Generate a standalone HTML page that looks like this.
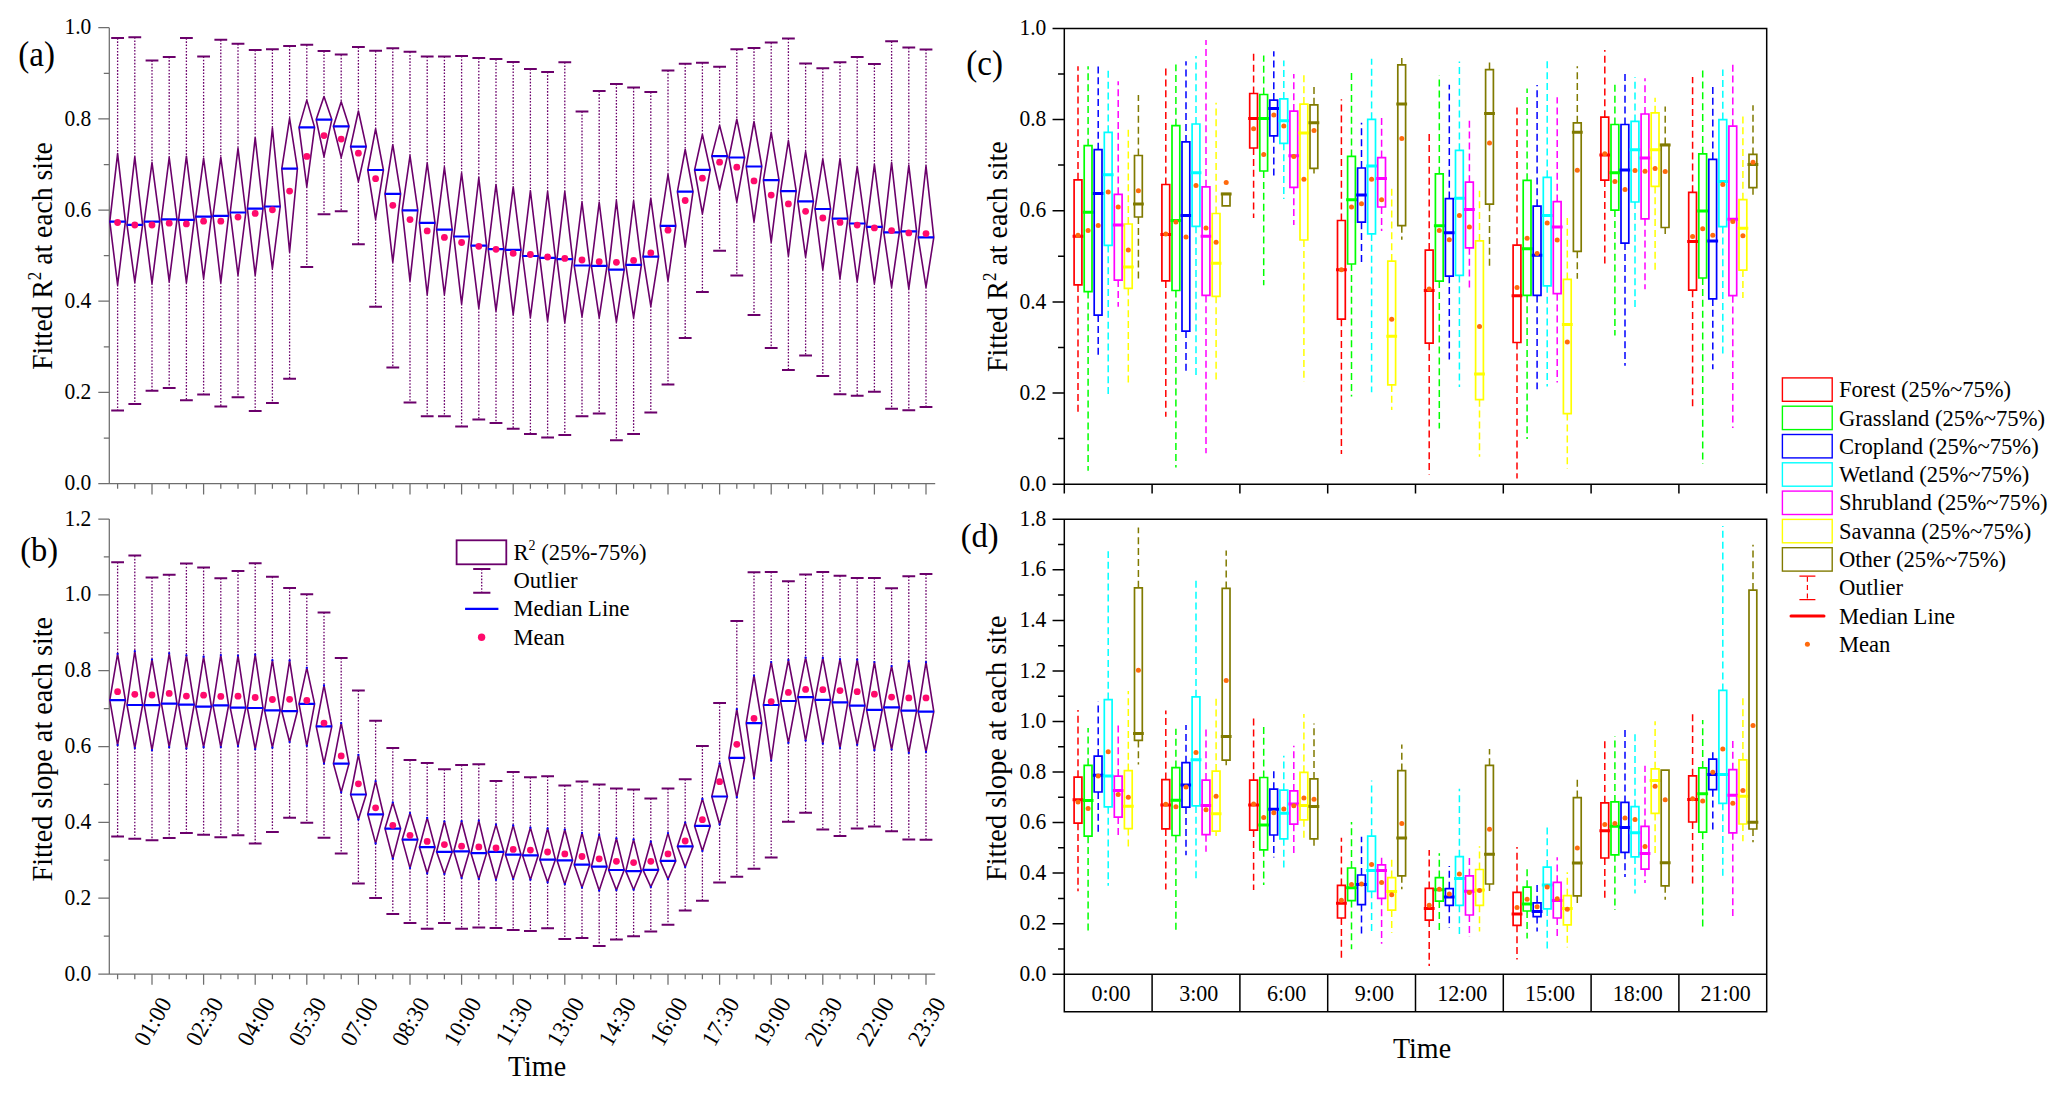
<!DOCTYPE html><html><head><meta charset="utf-8"><title>Figure</title>
<style>html,body{margin:0;padding:0;background:#fff}svg{display:block}text{font-family:"Liberation Serif",serif;fill:#000}</style></head><body>
<svg width="2067" height="1096" viewBox="0 0 2067 1096">
<rect width="2067" height="1096" fill="#fff"/>
<path d="M109.3 27.7V483.6M98.3 483.6H935.2M98.3 27.7H109.3M103.8 73.3H109.3M98.3 118.9H109.3M103.8 164.5H109.3M98.3 210.1H109.3M103.8 255.7H109.3M98.3 301.2H109.3M103.8 346.8H109.3M98.3 392.4H109.3M103.8 438H109.3M98.3 483.6H109.3M117.6 483.6v5.2M134.8 483.6v5.2M152 483.6v10.8M169.2 483.6v5.2M186.4 483.6v5.2M203.6 483.6v10.8M220.8 483.6v5.2M238 483.6v5.2M255.2 483.6v10.8M272.4 483.6v5.2M289.6 483.6v5.2M306.8 483.6v10.8M324 483.6v5.2M341.2 483.6v5.2M358.4 483.6v10.8M375.6 483.6v5.2M392.8 483.6v5.2M410 483.6v10.8M427.2 483.6v5.2M444.4 483.6v5.2M461.6 483.6v10.8M478.8 483.6v5.2M496 483.6v5.2M513.2 483.6v10.8M530.4 483.6v5.2M547.6 483.6v5.2M564.8 483.6v10.8M582 483.6v5.2M599.2 483.6v5.2M616.4 483.6v10.8M633.6 483.6v5.2M650.8 483.6v5.2M668 483.6v10.8M685.2 483.6v5.2M702.4 483.6v5.2M719.6 483.6v10.8M736.8 483.6v5.2M754 483.6v5.2M771.2 483.6v10.8M788.4 483.6v5.2M805.6 483.6v5.2M822.8 483.6v10.8M840 483.6v5.2M857.2 483.6v5.2M874.4 483.6v10.8M891.6 483.6v5.2M908.8 483.6v5.2M926 483.6v10.8" stroke="#6e6e6e" stroke-width="1.25" fill="none"/>
<text transform="translate(91.3 34.3) scale(1 1.06)" font-size="21.5" text-anchor="end">1.0</text>
<text transform="translate(91.3 125.5) scale(1 1.06)" font-size="21.5" text-anchor="end">0.8</text>
<text transform="translate(91.3 216.7) scale(1 1.06)" font-size="21.5" text-anchor="end">0.6</text>
<text transform="translate(91.3 307.8) scale(1 1.06)" font-size="21.5" text-anchor="end">0.4</text>
<text transform="translate(91.3 399) scale(1 1.06)" font-size="21.5" text-anchor="end">0.2</text>
<text transform="translate(91.3 490.2) scale(1 1.06)" font-size="21.5" text-anchor="end">0.0</text>
<path d="M117.6 38.1V153.6M117.6 284.8V410.5M134.8 37.2V156.8M134.8 282.1V404M152 60.4V162.6M152 283.4V390.8M169.2 56.9V157.5M169.2 281.4V387.9M186.4 38.1V156.2M186.4 282.7V400.2M203.6 56.5V158.3M203.6 278.4V394.5M220.8 39.8V157.4M220.8 282.7V406.5M238 43.8V148.3M238 275.2V397.3M255.2 50V137.7M255.2 275.2V411M272.4 49.3V128.1M272.4 268.4V403M289.6 45.9V118.3M289.6 252V378.7M306.8 44.8V100.1M306.8 186.7V267M324 51.1V96.6M324 156.5V214.3M341.2 54.6V101.7M341.2 157.4V211.3M358.4 47.1V111M358.4 181.5V244.3M375.6 50.8V128.8M375.6 219.1V306.8M392.8 48.2V144.7M392.8 262.2V367.5M410 51.7V155.8M410 280.8V402.4M427.2 56.5V163.2M427.2 294.5V416.2M444.4 56.5V167.4M444.4 294.5V416.2M461.6 56V173.1M461.6 303.8V426.4M478.8 57.9V177.9M478.8 308.2V419.5M496 59.1V184.5M496 310.9V423.1M513.2 61.9V186.8M513.2 314.3V428.8M530.4 69V190.9M530.4 317.1V433.9M547.6 71.9V191.6M547.6 321.2V437.4M564.8 62.2V191.6M564.8 322.5V435M582 111.4V202.3M582 316.4V416.2M599.2 90.9V202.3M599.2 317.7V413.6M616.4 83.9V200.9M616.4 321.8V440.2M633.6 87.6V201.2M633.6 317.7V434M650.8 92.1V198.4M650.8 306.1V412.5M668 70.4V174.5M668 280.8V384.4M685.2 63.7V149.5M685.2 246.3V338M702.4 62.8V134.5M702.4 213.5V291.9M719.6 66.8V125.4M719.6 189.5V250.7M736.8 49.3V119.2M736.8 201.8V275.6M754 48.1V121.5M754 221.7V315.1M771.2 42.6V132.4M771.2 242.2V347.9M788.4 38.5V140.6M788.4 256V370M805.6 63.4V151.8M805.6 257V355.4M822.8 68.2V159.2M822.8 269.7V375.9M840 62.3V158.5M840 278.3V394.2M857.2 57V166.7M857.2 281.5V395.8M874.4 64.1V164.6M874.4 283.5V391.8M891.6 41.3V162.5M891.6 287.2V408.8M908.8 47.6V165.3M908.8 288.6V410.3M926 49.4V166M926 287.2V407.1" stroke="#6b006b" stroke-width="1.3" stroke-dasharray="1.6 1.6" fill="none"/>
<path d="M111.2 38.1h12.8M111.2 410.5h12.8M128.4 37.2h12.8M128.4 404h12.8M145.6 60.4h12.8M145.6 390.8h12.8M162.8 56.9h12.8M162.8 387.9h12.8M180 38.1h12.8M180 400.2h12.8M197.2 56.5h12.8M197.2 394.5h12.8M214.4 39.8h12.8M214.4 406.5h12.8M231.6 43.8h12.8M231.6 397.3h12.8M248.8 50h12.8M248.8 411h12.8M266 49.3h12.8M266 403h12.8M283.2 45.9h12.8M283.2 378.7h12.8M300.4 44.8h12.8M300.4 267h12.8M317.6 51.1h12.8M317.6 214.3h12.8M334.8 54.6h12.8M334.8 211.3h12.8M352 47.1h12.8M352 244.3h12.8M369.2 50.8h12.8M369.2 306.8h12.8M386.4 48.2h12.8M386.4 367.5h12.8M403.6 51.7h12.8M403.6 402.4h12.8M420.8 56.5h12.8M420.8 416.2h12.8M438 56.5h12.8M438 416.2h12.8M455.2 56h12.8M455.2 426.4h12.8M472.4 57.9h12.8M472.4 419.5h12.8M489.6 59.1h12.8M489.6 423.1h12.8M506.8 61.9h12.8M506.8 428.8h12.8M524 69h12.8M524 433.9h12.8M541.2 71.9h12.8M541.2 437.4h12.8M558.4 62.2h12.8M558.4 435h12.8M575.6 111.4h12.8M575.6 416.2h12.8M592.8 90.9h12.8M592.8 413.6h12.8M610 83.9h12.8M610 440.2h12.8M627.2 87.6h12.8M627.2 434h12.8M644.4 92.1h12.8M644.4 412.5h12.8M661.6 70.4h12.8M661.6 384.4h12.8M678.8 63.7h12.8M678.8 338h12.8M696 62.8h12.8M696 291.9h12.8M713.2 66.8h12.8M713.2 250.7h12.8M730.4 49.3h12.8M730.4 275.6h12.8M747.6 48.1h12.8M747.6 315.1h12.8M764.8 42.6h12.8M764.8 347.9h12.8M782 38.5h12.8M782 370h12.8M799.2 63.4h12.8M799.2 355.4h12.8M816.4 68.2h12.8M816.4 375.9h12.8M833.6 62.3h12.8M833.6 394.2h12.8M850.8 57h12.8M850.8 395.8h12.8M868 64.1h12.8M868 391.8h12.8M885.2 41.3h12.8M885.2 408.8h12.8M902.4 47.6h12.8M902.4 410.3h12.8M919.6 49.4h12.8M919.6 407.1h12.8" stroke="#6b006b" stroke-width="2" fill="none"/>
<path d="M117.6 153.6L125.4 221.6L117.6 284.8L109.8 221.6ZM134.8 156.8L142.6 224.9L134.8 282.1L127 224.9ZM152 162.6L159.8 221.6L152 283.4L144.2 221.6ZM169.2 157.5L177 219.4L169.2 281.4L161.4 219.4ZM186.4 156.2L194.2 219.9L186.4 282.7L178.6 219.9ZM203.6 158.3L211.4 216.6L203.6 278.4L195.8 216.6ZM220.8 157.4L228.6 215.8L220.8 282.7L213 215.8ZM238 148.3L245.8 212.5L238 275.2L230.2 212.5ZM255.2 137.7L263 208.6L255.2 275.2L247.4 208.6ZM272.4 128.1L280.2 206.5L272.4 268.4L264.6 206.5ZM289.6 118.3L297.4 168.7L289.6 252L281.8 168.7ZM306.8 100.1L314.6 127.4L306.8 186.7L299 127.4ZM324 96.6L331.8 119.6L324 156.5L316.2 119.6ZM341.2 101.7L349 126.3L341.2 157.4L333.4 126.3ZM358.4 111L366.2 146.6L358.4 181.5L350.6 146.6ZM375.6 128.8L383.4 170L375.6 219.1L367.8 170ZM392.8 144.7L400.6 193.8L392.8 262.2L385 193.8ZM410 155.8L417.8 210.3L410 280.8L402.2 210.3ZM427.2 163.2L435 222.8L427.2 294.5L419.4 222.8ZM444.4 167.4L452.2 229.6L444.4 294.5L436.6 229.6ZM461.6 173.1L469.4 236.5L461.6 303.8L453.8 236.5ZM478.8 177.9L486.6 245.6L478.8 308.2L471 245.6ZM496 184.5L503.8 249.1L496 310.9L488.2 249.1ZM513.2 186.8L521 249.9L513.2 314.3L505.4 249.9ZM530.4 190.9L538.2 256L530.4 317.1L522.6 256ZM547.6 191.6L555.4 257.8L547.6 321.2L539.8 257.8ZM564.8 191.6L572.6 259.2L564.8 322.5L557 259.2ZM582 202.3L589.8 265.5L582 316.4L574.2 265.5ZM599.2 202.3L607 265.8L599.2 317.7L591.4 265.8ZM616.4 200.9L624.2 269.7L616.4 321.8L608.6 269.7ZM633.6 201.2L641.4 264.8L633.6 317.7L625.8 264.8ZM650.8 198.4L658.6 256.6L650.8 306.1L643 256.6ZM668 174.5L675.8 225.8L668 280.8L660.2 225.8ZM685.2 149.5L693 191.6L685.2 246.3L677.4 191.6ZM702.4 134.5L710.2 169.8L702.4 213.5L694.6 169.8ZM719.6 125.4L727.4 156.1L719.6 189.5L711.8 156.1ZM736.8 119.2L744.6 157.5L736.8 201.8L729 157.5ZM754 121.5L761.8 166.5L754 221.7L746.2 166.5ZM771.2 132.4L779 180.1L771.2 242.2L763.4 180.1ZM788.4 140.6L796.2 191.2L788.4 256L780.6 191.2ZM805.6 151.8L813.4 201.3L805.6 257L797.8 201.3ZM822.8 159.2L830.6 209L822.8 269.7L815 209ZM840 158.5L847.8 218.7L840 278.3L832.2 218.7ZM857.2 166.7L865 223.5L857.2 281.5L849.4 223.5ZM874.4 164.6L882.2 226.8L874.4 283.5L866.6 226.8ZM891.6 162.5L899.4 232.4L891.6 287.2L883.8 232.4ZM908.8 165.3L916.6 231.4L908.8 288.6L901 231.4ZM926 166L933.8 237.4L926 287.2L918.2 237.4Z" stroke="#6b006b" stroke-width="1.6" stroke-linejoin="round" fill="none"/>
<path d="M109.6 221.6h16M126.8 224.9h16M144 221.6h16M161.2 219.4h16M178.4 219.9h16M195.6 216.6h16M212.8 215.8h16M230 212.5h16M247.2 208.6h16M264.4 206.5h16M281.6 168.7h16M298.8 127.4h16M316 119.6h16M333.2 126.3h16M350.4 146.6h16M367.6 170h16M384.8 193.8h16M402 210.3h16M419.2 222.8h16M436.4 229.6h16M453.6 236.5h16M470.8 245.6h16M488 249.1h16M505.2 249.9h16M522.4 256h16M539.6 257.8h16M556.8 259.2h16M574 265.5h16M591.2 265.8h16M608.4 269.7h16M625.6 264.8h16M642.8 256.6h16M660 225.8h16M677.2 191.6h16M694.4 169.8h16M711.6 156.1h16M728.8 157.5h16M746 166.5h16M763.2 180.1h16M780.4 191.2h16M797.6 201.3h16M814.8 209h16M832 218.7h16M849.2 223.5h16M866.4 226.8h16M883.6 232.4h16M900.8 231.4h16M918 237.4h16" stroke="#0000ff" stroke-width="2.2" fill="none"/>
<g fill="#ff0a6c"><circle cx="117.6" cy="222.5" r="3.4"/><circle cx="134.8" cy="225" r="3.4"/><circle cx="152" cy="225" r="3.4"/><circle cx="169.2" cy="223.2" r="3.4"/><circle cx="186.4" cy="223.9" r="3.4"/><circle cx="203.6" cy="221.2" r="3.4"/><circle cx="220.8" cy="221.2" r="3.4"/><circle cx="238" cy="217.1" r="3.4"/><circle cx="255.2" cy="213.4" r="3.4"/><circle cx="272.4" cy="209.8" r="3.4"/><circle cx="289.6" cy="191.1" r="3.4"/><circle cx="306.8" cy="156.4" r="3.4"/><circle cx="324" cy="135.6" r="3.4"/><circle cx="341.2" cy="139.1" r="3.4"/><circle cx="358.4" cy="153.2" r="3.4"/><circle cx="375.6" cy="178.7" r="3.4"/><circle cx="392.8" cy="205.3" r="3.4"/><circle cx="410" cy="219.6" r="3.4"/><circle cx="427.2" cy="230.9" r="3.4"/><circle cx="444.4" cy="237.4" r="3.4"/><circle cx="461.6" cy="242.5" r="3.4"/><circle cx="478.8" cy="246.3" r="3.4"/><circle cx="496" cy="249.3" r="3.4"/><circle cx="513.2" cy="253.4" r="3.4"/><circle cx="530.4" cy="254.5" r="3.4"/><circle cx="547.6" cy="257" r="3.4"/><circle cx="564.8" cy="258.4" r="3.4"/><circle cx="582" cy="260" r="3.4"/><circle cx="599.2" cy="261.7" r="3.4"/><circle cx="616.4" cy="262.3" r="3.4"/><circle cx="633.6" cy="260.4" r="3.4"/><circle cx="650.8" cy="252.9" r="3.4"/><circle cx="668" cy="230.2" r="3.4"/><circle cx="685.2" cy="200.5" r="3.4"/><circle cx="702.4" cy="178.2" r="3.4"/><circle cx="719.6" cy="162.2" r="3.4"/><circle cx="736.8" cy="167.2" r="3.4"/><circle cx="754" cy="180.9" r="3.4"/><circle cx="771.2" cy="195.1" r="3.4"/><circle cx="788.4" cy="203.9" r="3.4"/><circle cx="805.6" cy="211.3" r="3.4"/><circle cx="822.8" cy="218" r="3.4"/><circle cx="840" cy="222.4" r="3.4"/><circle cx="857.2" cy="225.1" r="3.4"/><circle cx="874.4" cy="227.9" r="3.4"/><circle cx="891.6" cy="230.6" r="3.4"/><circle cx="908.8" cy="232.9" r="3.4"/><circle cx="926" cy="233.6" r="3.4"/></g>
<path d="M109.3 519V974M98.3 974H935.2M98.3 519H109.3M103.8 556.9H109.3M98.3 594.8H109.3M103.8 632.8H109.3M98.3 670.7H109.3M103.8 708.6H109.3M98.3 746.5H109.3M103.8 784.4H109.3M98.3 822.3H109.3M103.8 860.2H109.3M98.3 898.2H109.3M103.8 936.1H109.3M98.3 974H109.3M117.6 974v5.2M134.8 974v5.2M152 974v10.8M169.2 974v5.2M186.4 974v5.2M203.6 974v10.8M220.8 974v5.2M238 974v5.2M255.2 974v10.8M272.4 974v5.2M289.6 974v5.2M306.8 974v10.8M324 974v5.2M341.2 974v5.2M358.4 974v10.8M375.6 974v5.2M392.8 974v5.2M410 974v10.8M427.2 974v5.2M444.4 974v5.2M461.6 974v10.8M478.8 974v5.2M496 974v5.2M513.2 974v10.8M530.4 974v5.2M547.6 974v5.2M564.8 974v10.8M582 974v5.2M599.2 974v5.2M616.4 974v10.8M633.6 974v5.2M650.8 974v5.2M668 974v10.8M685.2 974v5.2M702.4 974v5.2M719.6 974v10.8M736.8 974v5.2M754 974v5.2M771.2 974v10.8M788.4 974v5.2M805.6 974v5.2M822.8 974v10.8M840 974v5.2M857.2 974v5.2M874.4 974v10.8M891.6 974v5.2M908.8 974v5.2M926 974v10.8" stroke="#6e6e6e" stroke-width="1.25" fill="none"/>
<text transform="translate(91.3 525.6) scale(1 1.06)" font-size="21.5" text-anchor="end">1.2</text>
<text transform="translate(91.3 601.4) scale(1 1.06)" font-size="21.5" text-anchor="end">1.0</text>
<text transform="translate(91.3 677.3) scale(1 1.06)" font-size="21.5" text-anchor="end">0.8</text>
<text transform="translate(91.3 753.1) scale(1 1.06)" font-size="21.5" text-anchor="end">0.6</text>
<text transform="translate(91.3 828.9) scale(1 1.06)" font-size="21.5" text-anchor="end">0.4</text>
<text transform="translate(91.3 904.8) scale(1 1.06)" font-size="21.5" text-anchor="end">0.2</text>
<text transform="translate(91.3 980.6) scale(1 1.06)" font-size="21.5" text-anchor="end">0.0</text>
<path d="M117.6 562.2V653.8M117.6 745.1V836.6M134.8 555.6V651.2M134.8 748.1V838.8M152 577.5V659.5M152 750.2V840.3M169.2 574.8V653.3M169.2 747.2V838M186.4 563.5V655.3M186.4 748.5V832.9M203.6 567.4V656.7M203.6 747.2V834.7M220.8 578.2V655M220.8 747V837.2M238 571.1V655.6M238 746.1V835.3M255.2 563.3V654.6M255.2 749.2V843.6M272.4 576.7V660.2M272.4 747.7V832M289.6 588V660.4M289.6 742V817.7M306.8 594.3V667.8M306.8 745.8V822.8M324 612.5V685.4M324 763.5V837.7M341.2 658V723.2M341.2 792.3V853.5M358.4 690.4V754.8M358.4 819.6V883.4M375.6 720.8V781.1M375.6 843.4V898M392.8 748V802.4M392.8 858.7V914M410 760V813M410 868.1V922.9M427.2 763.1V817.9M427.2 873.3V928.8M444.4 769.2V821.3M444.4 874.1V923.1M461.6 765V821.2M461.6 878V928.8M478.8 764.2V820.6M478.8 878.9V927.6M496 781.1V824.6M496 879.8V928.1M513.2 772V825.4M513.2 879V930.1M530.4 777.2V827.7M530.4 879.7V931M547.6 776.3V828.4M547.6 882.3V928.3M564.8 785.5V829.5M564.8 884.2V939.1M582 781.5V832.9M582 887.5V938M599.2 784.5V834.9M599.2 890.6V946.1M616.4 788.6V838.3M616.4 890.1V939.6M633.6 789.6V839.4M633.6 889.7V936.2M650.8 798.5V841.7M650.8 886.9V931.4M668 788.6V833.1M668 879.1V924.8M685.2 779.2V822.5M685.2 867V910.4M702.4 745.9V798.9M702.4 851V900.8M719.6 703V763.3M719.6 824.3V882.5M736.8 621V709.1M736.8 797.2V876.7M754 572.2V675.5M754 778.2V868.7M771.2 572V662M771.2 760.5V857.4M788.4 581.3V660M788.4 742.9V821.7M805.6 574.5V657.6M805.6 740.6V812.8M822.8 571.9V657.9M822.8 743.7V829.4M840 575.7V659.2M840 748.1V836M857.2 578V659.6M857.2 744.8V828.4M874.4 578V662M874.4 750.2V826.4M891.6 588.2V666.1M891.6 749.5V831.3M908.8 576.3V661.3M908.8 752.9V839.5M926 574.1V662.2M926 751.9V839.8" stroke="#6b006b" stroke-width="1.3" stroke-dasharray="1.6 1.6" fill="none"/>
<path d="M111.2 562.2h12.8M111.2 836.6h12.8M128.4 555.6h12.8M128.4 838.8h12.8M145.6 577.5h12.8M145.6 840.3h12.8M162.8 574.8h12.8M162.8 838h12.8M180 563.5h12.8M180 832.9h12.8M197.2 567.4h12.8M197.2 834.7h12.8M214.4 578.2h12.8M214.4 837.2h12.8M231.6 571.1h12.8M231.6 835.3h12.8M248.8 563.3h12.8M248.8 843.6h12.8M266 576.7h12.8M266 832h12.8M283.2 588h12.8M283.2 817.7h12.8M300.4 594.3h12.8M300.4 822.8h12.8M317.6 612.5h12.8M317.6 837.7h12.8M334.8 658h12.8M334.8 853.5h12.8M352 690.4h12.8M352 883.4h12.8M369.2 720.8h12.8M369.2 898h12.8M386.4 748h12.8M386.4 914h12.8M403.6 760h12.8M403.6 922.9h12.8M420.8 763.1h12.8M420.8 928.8h12.8M438 769.2h12.8M438 923.1h12.8M455.2 765h12.8M455.2 928.8h12.8M472.4 764.2h12.8M472.4 927.6h12.8M489.6 781.1h12.8M489.6 928.1h12.8M506.8 772h12.8M506.8 930.1h12.8M524 777.2h12.8M524 931h12.8M541.2 776.3h12.8M541.2 928.3h12.8M558.4 785.5h12.8M558.4 939.1h12.8M575.6 781.5h12.8M575.6 938h12.8M592.8 784.5h12.8M592.8 946.1h12.8M610 788.6h12.8M610 939.6h12.8M627.2 789.6h12.8M627.2 936.2h12.8M644.4 798.5h12.8M644.4 931.4h12.8M661.6 788.6h12.8M661.6 924.8h12.8M678.8 779.2h12.8M678.8 910.4h12.8M696 745.9h12.8M696 900.8h12.8M713.2 703h12.8M713.2 882.5h12.8M730.4 621h12.8M730.4 876.7h12.8M747.6 572.2h12.8M747.6 868.7h12.8M764.8 572h12.8M764.8 857.4h12.8M782 581.3h12.8M782 821.7h12.8M799.2 574.5h12.8M799.2 812.8h12.8M816.4 571.9h12.8M816.4 829.4h12.8M833.6 575.7h12.8M833.6 836h12.8M850.8 578h12.8M850.8 828.4h12.8M868 578h12.8M868 826.4h12.8M885.2 588.2h12.8M885.2 831.3h12.8M902.4 576.3h12.8M902.4 839.5h12.8M919.6 574.1h12.8M919.6 839.8h12.8" stroke="#6b006b" stroke-width="2" fill="none"/>
<path d="M117.6 653.8L125.4 700.2L117.6 745.1L109.8 700.2ZM134.8 651.2L142.6 705L134.8 748.1L127 705ZM152 659.5L159.8 705.1L152 750.2L144.2 705.1ZM169.2 653.3L177 703.6L169.2 747.2L161.4 703.6ZM186.4 655.3L194.2 704.6L186.4 748.5L178.6 704.6ZM203.6 656.7L211.4 706.6L203.6 747.2L195.8 706.6ZM220.8 655L228.6 705.3L220.8 747L213 705.3ZM238 655.6L245.8 707.6L238 746.1L230.2 707.6ZM255.2 654.6L263 708L255.2 749.2L247.4 708ZM272.4 660.2L280.2 710.3L272.4 747.7L264.6 710.3ZM289.6 660.4L297.4 711.2L289.6 742L281.8 711.2ZM306.8 667.8L314.6 703.9L306.8 745.8L299 703.9ZM324 685.4L331.8 726.4L324 763.5L316.2 726.4ZM341.2 723.2L349 763.6L341.2 792.3L333.4 763.6ZM358.4 754.8L366.2 794.5L358.4 819.6L350.6 794.5ZM375.6 781.1L383.4 814.3L375.6 843.4L367.8 814.3ZM392.8 802.4L400.6 828.6L392.8 858.7L385 828.6ZM410 813L417.8 839.6L410 868.1L402.2 839.6ZM427.2 817.9L435 847.2L427.2 873.3L419.4 847.2ZM444.4 821.3L452.2 851.8L444.4 874.1L436.6 851.8ZM461.6 821.2L469.4 851.3L461.6 878L453.8 851.3ZM478.8 820.6L486.6 853.2L478.8 878.9L471 853.2ZM496 824.6L503.8 851.8L496 879.8L488.2 851.8ZM513.2 825.4L521 854.7L513.2 879L505.4 854.7ZM530.4 827.7L538.2 855.4L530.4 879.7L522.6 855.4ZM547.6 828.4L555.4 859.6L547.6 882.3L539.8 859.6ZM564.8 829.5L572.6 860.3L564.8 884.2L557 860.3ZM582 832.9L589.8 864.7L582 887.5L574.2 864.7ZM599.2 834.9L607 866.7L599.2 890.6L591.4 866.7ZM616.4 838.3L624.2 870L616.4 890.1L608.6 870ZM633.6 839.4L641.4 871.1L633.6 889.7L625.8 871.1ZM650.8 841.7L658.6 869.8L650.8 886.9L643 869.8ZM668 833.1L675.8 860.9L668 879.1L660.2 860.9ZM685.2 822.5L693 846.4L685.2 867L677.4 846.4ZM702.4 798.9L710.2 825.9L702.4 851L694.6 825.9ZM719.6 763.3L727.4 796.5L719.6 824.3L711.8 796.5ZM736.8 709.1L744.6 757.8L736.8 797.2L729 757.8ZM754 675.5L761.8 723.2L754 778.2L746.2 723.2ZM771.2 662L779 705L771.2 760.5L763.4 705ZM788.4 660L796.2 701L788.4 742.9L780.6 701ZM805.6 657.6L813.4 697.2L805.6 740.6L797.8 697.2ZM822.8 657.9L830.6 699.8L822.8 743.7L815 699.8ZM840 659.2L847.8 702.4L840 748.1L832.2 702.4ZM857.2 659.6L865 705.6L857.2 744.8L849.4 705.6ZM874.4 662L882.2 709.9L874.4 750.2L866.6 709.9ZM891.6 666.1L899.4 707.3L891.6 749.5L883.8 707.3ZM908.8 661.3L916.6 710.6L908.8 752.9L901 710.6ZM926 662.2L933.8 711.6L926 751.9L918.2 711.6Z" stroke="#6b006b" stroke-width="1.6" stroke-linejoin="round" fill="none"/>
<path d="M109.6 700.2h16M126.8 705h16M144 705.1h16M161.2 703.6h16M178.4 704.6h16M195.6 706.6h16M212.8 705.3h16M230 707.6h16M247.2 708h16M264.4 710.3h16M281.6 711.2h16M298.8 703.9h16M316 726.4h16M333.2 763.6h16M350.4 794.5h16M367.6 814.3h16M384.8 828.6h16M402 839.6h16M419.2 847.2h16M436.4 851.8h16M453.6 851.3h16M470.8 853.2h16M488 851.8h16M505.2 854.7h16M522.4 855.4h16M539.6 859.6h16M556.8 860.3h16M574 864.7h16M591.2 866.7h16M608.4 870h16M625.6 871.1h16M642.8 869.8h16M660 860.9h16M677.2 846.4h16M694.4 825.9h16M711.6 796.5h16M728.8 757.8h16M746 723.2h16M763.2 705h16M780.4 701h16M797.6 697.2h16M814.8 699.8h16M832 702.4h16M849.2 705.6h16M866.4 709.9h16M883.6 707.3h16M900.8 710.6h16M918 711.6h16" stroke="#0000ff" stroke-width="2.2" fill="none"/>
<g fill="#0000ff"><circle cx="117.6" cy="653.8" r="1.1"/><circle cx="117.6" cy="745.1" r="1.1"/><circle cx="134.8" cy="651.2" r="1.1"/><circle cx="134.8" cy="748.1" r="1.1"/><circle cx="152" cy="659.5" r="1.1"/><circle cx="152" cy="750.2" r="1.1"/><circle cx="169.2" cy="653.3" r="1.1"/><circle cx="169.2" cy="747.2" r="1.1"/><circle cx="186.4" cy="655.3" r="1.1"/><circle cx="186.4" cy="748.5" r="1.1"/><circle cx="203.6" cy="656.7" r="1.1"/><circle cx="203.6" cy="747.2" r="1.1"/><circle cx="220.8" cy="655" r="1.1"/><circle cx="220.8" cy="747" r="1.1"/><circle cx="238" cy="655.6" r="1.1"/><circle cx="238" cy="746.1" r="1.1"/><circle cx="255.2" cy="654.6" r="1.1"/><circle cx="255.2" cy="749.2" r="1.1"/><circle cx="272.4" cy="660.2" r="1.1"/><circle cx="272.4" cy="747.7" r="1.1"/><circle cx="289.6" cy="660.4" r="1.1"/><circle cx="289.6" cy="742" r="1.1"/><circle cx="306.8" cy="667.8" r="1.1"/><circle cx="306.8" cy="745.8" r="1.1"/><circle cx="324" cy="685.4" r="1.1"/><circle cx="324" cy="763.5" r="1.1"/><circle cx="341.2" cy="723.2" r="1.1"/><circle cx="341.2" cy="792.3" r="1.1"/><circle cx="358.4" cy="754.8" r="1.1"/><circle cx="358.4" cy="819.6" r="1.1"/><circle cx="375.6" cy="781.1" r="1.1"/><circle cx="375.6" cy="843.4" r="1.1"/><circle cx="392.8" cy="802.4" r="1.1"/><circle cx="392.8" cy="858.7" r="1.1"/><circle cx="410" cy="813" r="1.1"/><circle cx="410" cy="868.1" r="1.1"/><circle cx="427.2" cy="817.9" r="1.1"/><circle cx="427.2" cy="873.3" r="1.1"/><circle cx="444.4" cy="821.3" r="1.1"/><circle cx="444.4" cy="874.1" r="1.1"/><circle cx="461.6" cy="821.2" r="1.1"/><circle cx="461.6" cy="878" r="1.1"/><circle cx="478.8" cy="820.6" r="1.1"/><circle cx="478.8" cy="878.9" r="1.1"/><circle cx="496" cy="824.6" r="1.1"/><circle cx="496" cy="879.8" r="1.1"/><circle cx="513.2" cy="825.4" r="1.1"/><circle cx="513.2" cy="879" r="1.1"/><circle cx="530.4" cy="827.7" r="1.1"/><circle cx="530.4" cy="879.7" r="1.1"/><circle cx="547.6" cy="828.4" r="1.1"/><circle cx="547.6" cy="882.3" r="1.1"/><circle cx="564.8" cy="829.5" r="1.1"/><circle cx="564.8" cy="884.2" r="1.1"/><circle cx="582" cy="832.9" r="1.1"/><circle cx="582" cy="887.5" r="1.1"/><circle cx="599.2" cy="834.9" r="1.1"/><circle cx="599.2" cy="890.6" r="1.1"/><circle cx="616.4" cy="838.3" r="1.1"/><circle cx="616.4" cy="890.1" r="1.1"/><circle cx="633.6" cy="839.4" r="1.1"/><circle cx="633.6" cy="889.7" r="1.1"/><circle cx="650.8" cy="841.7" r="1.1"/><circle cx="650.8" cy="886.9" r="1.1"/><circle cx="668" cy="833.1" r="1.1"/><circle cx="668" cy="879.1" r="1.1"/><circle cx="685.2" cy="822.5" r="1.1"/><circle cx="685.2" cy="867" r="1.1"/><circle cx="702.4" cy="798.9" r="1.1"/><circle cx="702.4" cy="851" r="1.1"/><circle cx="719.6" cy="763.3" r="1.1"/><circle cx="719.6" cy="824.3" r="1.1"/><circle cx="736.8" cy="709.1" r="1.1"/><circle cx="736.8" cy="797.2" r="1.1"/><circle cx="754" cy="675.5" r="1.1"/><circle cx="754" cy="778.2" r="1.1"/><circle cx="771.2" cy="662" r="1.1"/><circle cx="771.2" cy="760.5" r="1.1"/><circle cx="788.4" cy="660" r="1.1"/><circle cx="788.4" cy="742.9" r="1.1"/><circle cx="805.6" cy="657.6" r="1.1"/><circle cx="805.6" cy="740.6" r="1.1"/><circle cx="822.8" cy="657.9" r="1.1"/><circle cx="822.8" cy="743.7" r="1.1"/><circle cx="840" cy="659.2" r="1.1"/><circle cx="840" cy="748.1" r="1.1"/><circle cx="857.2" cy="659.6" r="1.1"/><circle cx="857.2" cy="744.8" r="1.1"/><circle cx="874.4" cy="662" r="1.1"/><circle cx="874.4" cy="750.2" r="1.1"/><circle cx="891.6" cy="666.1" r="1.1"/><circle cx="891.6" cy="749.5" r="1.1"/><circle cx="908.8" cy="661.3" r="1.1"/><circle cx="908.8" cy="752.9" r="1.1"/><circle cx="926" cy="662.2" r="1.1"/><circle cx="926" cy="751.9" r="1.1"/></g>
<g fill="#ff0a6c"><circle cx="117.6" cy="691.7" r="3.4"/><circle cx="134.8" cy="694.3" r="3.4"/><circle cx="152" cy="695" r="3.4"/><circle cx="169.2" cy="693.4" r="3.4"/><circle cx="186.4" cy="696.1" r="3.4"/><circle cx="203.6" cy="695.2" r="3.4"/><circle cx="220.8" cy="696.4" r="3.4"/><circle cx="238" cy="696.2" r="3.4"/><circle cx="255.2" cy="697.5" r="3.4"/><circle cx="272.4" cy="699.5" r="3.4"/><circle cx="289.6" cy="699.3" r="3.4"/><circle cx="306.8" cy="700.5" r="3.4"/><circle cx="324" cy="723.1" r="3.4"/><circle cx="341.2" cy="755.9" r="3.4"/><circle cx="358.4" cy="783.8" r="3.4"/><circle cx="375.6" cy="807.8" r="3.4"/><circle cx="392.8" cy="825.3" r="3.4"/><circle cx="410" cy="835.3" r="3.4"/><circle cx="427.2" cy="841.4" r="3.4"/><circle cx="444.4" cy="844.6" r="3.4"/><circle cx="461.6" cy="846.2" r="3.4"/><circle cx="478.8" cy="846.9" r="3.4"/><circle cx="496" cy="848" r="3.4"/><circle cx="513.2" cy="849.4" r="3.4"/><circle cx="530.4" cy="850.1" r="3.4"/><circle cx="547.6" cy="852" r="3.4"/><circle cx="564.8" cy="853.9" r="3.4"/><circle cx="582" cy="856.5" r="3.4"/><circle cx="599.2" cy="858.8" r="3.4"/><circle cx="616.4" cy="861.3" r="3.4"/><circle cx="633.6" cy="862.6" r="3.4"/><circle cx="650.8" cy="861.3" r="3.4"/><circle cx="668" cy="853.9" r="3.4"/><circle cx="685.2" cy="841" r="3.4"/><circle cx="702.4" cy="819.7" r="3.4"/><circle cx="719.6" cy="781.7" r="3.4"/><circle cx="736.8" cy="744.3" r="3.4"/><circle cx="754" cy="718.4" r="3.4"/><circle cx="771.2" cy="701.6" r="3.4"/><circle cx="788.4" cy="692.4" r="3.4"/><circle cx="805.6" cy="689.4" r="3.4"/><circle cx="822.8" cy="689.7" r="3.4"/><circle cx="840" cy="690.6" r="3.4"/><circle cx="857.2" cy="691.7" r="3.4"/><circle cx="874.4" cy="694.2" r="3.4"/><circle cx="891.6" cy="697.1" r="3.4"/><circle cx="908.8" cy="697.9" r="3.4"/><circle cx="926" cy="697.9" r="3.4"/></g>
<text transform="translate(159.6 1025.5) rotate(-60) scale(1 1.06)" font-size="22.5" text-anchor="middle">01:00</text>
<text transform="translate(211.2 1025.5) rotate(-60) scale(1 1.06)" font-size="22.5" text-anchor="middle">02:30</text>
<text transform="translate(262.8 1025.5) rotate(-60) scale(1 1.06)" font-size="22.5" text-anchor="middle">04:00</text>
<text transform="translate(314.4 1025.5) rotate(-60) scale(1 1.06)" font-size="22.5" text-anchor="middle">05:30</text>
<text transform="translate(366 1025.5) rotate(-60) scale(1 1.06)" font-size="22.5" text-anchor="middle">07:00</text>
<text transform="translate(417.6 1025.5) rotate(-60) scale(1 1.06)" font-size="22.5" text-anchor="middle">08:30</text>
<text transform="translate(469.2 1025.5) rotate(-60) scale(1 1.06)" font-size="22.5" text-anchor="middle">10:00</text>
<text transform="translate(520.8 1025.5) rotate(-60) scale(1 1.06)" font-size="22.5" text-anchor="middle">11:30</text>
<text transform="translate(572.4 1025.5) rotate(-60) scale(1 1.06)" font-size="22.5" text-anchor="middle">13:00</text>
<text transform="translate(624 1025.5) rotate(-60) scale(1 1.06)" font-size="22.5" text-anchor="middle">14:30</text>
<text transform="translate(675.6 1025.5) rotate(-60) scale(1 1.06)" font-size="22.5" text-anchor="middle">16:00</text>
<text transform="translate(727.2 1025.5) rotate(-60) scale(1 1.06)" font-size="22.5" text-anchor="middle">17:30</text>
<text transform="translate(778.8 1025.5) rotate(-60) scale(1 1.06)" font-size="22.5" text-anchor="middle">19:00</text>
<text transform="translate(830.4 1025.5) rotate(-60) scale(1 1.06)" font-size="22.5" text-anchor="middle">20:30</text>
<text transform="translate(882 1025.5) rotate(-60) scale(1 1.06)" font-size="22.5" text-anchor="middle">22:00</text>
<text transform="translate(933.6 1025.5) rotate(-60) scale(1 1.06)" font-size="22.5" text-anchor="middle">23:30</text>
<text transform="translate(51.5 256) rotate(-90) scale(1 1.06)" font-size="27.6" text-anchor="middle">Fitted R<tspan dy="-10" font-size="17">2</tspan><tspan dy="10"> at each site</tspan></text>
<text transform="translate(52.3 749.2) rotate(-90) scale(1 1.06)" font-size="28.2" text-anchor="middle">Fitted slope at each site</text>
<text transform="translate(537 1076) scale(1 1.06)" font-size="28" text-anchor="middle">Time</text>
<text transform="translate(18.3 66.4) scale(1 1.06)" font-size="33">(a)</text>
<text transform="translate(20.2 561) scale(1 1.06)" font-size="32.5">(b)</text>
<rect x="456.6" y="540.3" width="49.7" height="24" fill="none" stroke="#6b006b" stroke-width="1.8"/>
<path d="M481.7 569V592.8" stroke="#6b006b" stroke-width="1.3" stroke-dasharray="1.6 1.6"/>
<path d="M473.2 569h17.2M473.2 592.8h17.2" stroke="#6b006b" stroke-width="2"/>
<path d="M465.1 608.8H498.4" stroke="#0000ff" stroke-width="2.2"/>
<circle cx="481.6" cy="637.3" r="3.7" fill="#ff0a6c"/>
<text transform="translate(513.5 560) scale(1 1.06)" font-size="22.6">R<tspan dy="-9" font-size="14">2</tspan><tspan dy="9"> (25%-75%)</tspan></text>
<text transform="translate(513.5 588.2) scale(1 1.06)" font-size="22.6">Outlier</text>
<text transform="translate(513.5 616.2) scale(1 1.06)" font-size="22.6">Median Line</text>
<text transform="translate(513.5 644.6) scale(1 1.06)" font-size="22.6">Mean</text>
<path d="M1078 179.8V66.2M1078 284.9V411.9M1165.8 184.5V67M1165.8 280.9V416.8M1253.6 93.5V52.2M1253.6 148V217.9M1341.4 220.5V99.2M1341.4 319.2V454M1429.2 250.1V132.3M1429.2 343.2V474.6M1517 245.2V104.8M1517 342.5V478.6M1604.8 117.2V50M1604.8 180.1V264M1692.6 192.3V77.1M1692.6 290.2V408.1" stroke="#ff0000" stroke-width="1.5" stroke-dasharray="7 3.9" fill="none"/>
<path d="M1074.1 179.8h7.8V284.9h-7.8ZM1161.9 184.5h7.8V280.9h-7.8ZM1249.7 93.5h7.8V148h-7.8ZM1337.5 220.5h7.8V319.2h-7.8ZM1425.3 250.1h7.8V343.2h-7.8ZM1513.1 245.2h7.8V342.5h-7.8ZM1600.9 117.2h7.8V180.1h-7.8ZM1688.7 192.3h7.8V290.2h-7.8Z" stroke="#ff0000" stroke-width="1.7" fill="none"/>
<path d="M1072.6 236.2h10.8M1160.4 234.4h10.8M1248.2 118.4h10.8M1336 269.8h10.8M1423.8 290.5h10.8M1511.6 295.7h10.8M1599.4 155h10.8M1687.2 241.4h10.8" stroke="#ff0000" stroke-width="3" fill="none"/>
<path d="M1088.1 145.7V66.2M1088.1 291.6V470.7M1175.9 125.7V64.4M1175.9 290.5V467.6M1263.7 94.5V55.4M1263.7 171V285.3M1351.5 156.4V69.6M1351.5 264V396.6M1439.3 173.8V75.4M1439.3 281.1V428.4M1527.1 180.3V88.4M1527.1 295.4V438.9M1614.9 124.5V81.3M1614.9 210.1V335.6M1702.7 153.8V70M1702.7 278V463.8" stroke="#00ff00" stroke-width="1.5" stroke-dasharray="7 3.9" fill="none"/>
<path d="M1084.2 145.7h7.8V291.6h-7.8ZM1172 125.7h7.8V290.5h-7.8ZM1259.8 94.5h7.8V171h-7.8ZM1347.6 156.4h7.8V264h-7.8ZM1435.4 173.8h7.8V281.1h-7.8ZM1523.2 180.3h7.8V295.4h-7.8ZM1611 124.5h7.8V210.1h-7.8ZM1698.8 153.8h7.8V278h-7.8Z" stroke="#00ff00" stroke-width="1.7" fill="none"/>
<path d="M1082.7 212.3h10.8M1170.5 220.5h10.8M1258.3 118.4h10.8M1346.1 199.7h10.8M1433.9 225.7h10.8M1521.7 248.7h10.8M1609.5 172.7h10.8M1697.3 210.9h10.8" stroke="#00ff00" stroke-width="3" fill="none"/>
<path d="M1098.2 149.7V65.3M1098.2 315.1V357.4M1186 141.9V61.3M1186 331.1V373.9M1273.8 100.1V51.3M1273.8 135.8V176.4M1361.5 168V122.8M1361.5 222.2V265.8M1449.3 198.6V84.8M1449.3 276.2V363.6M1537.1 206.2V85M1537.1 295.4V389.2M1625 124.5V73.1M1625 243.1V365.7M1712.8 159.3V85.3M1712.8 298.9V369.2" stroke="#0000ff" stroke-width="1.5" stroke-dasharray="7 3.9" fill="none"/>
<path d="M1094.2 149.7h7.8V315.1h-7.8ZM1182 141.9h7.8V331.1h-7.8ZM1269.8 100.1h7.8V135.8h-7.8ZM1357.6 168h7.8V222.2h-7.8ZM1445.4 198.6h7.8V276.2h-7.8ZM1533.2 206.2h7.8V295.4h-7.8ZM1621 124.5h7.8V243.1h-7.8ZM1708.8 159.3h7.8V298.9h-7.8Z" stroke="#0000ff" stroke-width="1.7" fill="none"/>
<path d="M1092.8 193.4h10.8M1180.5 215.6h10.8M1268.3 108.5h10.8M1356.1 195h10.8M1443.9 232.7h10.8M1531.7 255.3h10.8M1619.5 170.1h10.8M1707.3 240.9h10.8" stroke="#0000ff" stroke-width="3" fill="none"/>
<path d="M1108.2 132.3V67M1108.2 245.4V395.3M1196 124V56M1196 226.3V375M1283.8 98.9V60.4M1283.8 143.3V199M1371.6 119.3V58.7M1371.6 233.9V392.2M1459.4 150.3V61.4M1459.4 275.4V387M1547.2 177.3V61.3M1547.2 285.8V386.6M1635 121.4V76.9M1635 202V311M1722.8 119.6V69.6M1722.8 226.6V353.8" stroke="#00ffff" stroke-width="1.5" stroke-dasharray="7 3.9" fill="none"/>
<path d="M1104.3 132.3h7.8V245.4h-7.8ZM1192.1 124h7.8V226.3h-7.8ZM1279.9 98.9h7.8V143.3h-7.8ZM1367.7 119.3h7.8V233.9h-7.8ZM1455.5 150.3h7.8V275.4h-7.8ZM1543.3 177.3h7.8V285.8h-7.8ZM1631.1 121.4h7.8V202h-7.8ZM1718.9 119.6h7.8V226.6h-7.8Z" stroke="#00ffff" stroke-width="1.7" fill="none"/>
<path d="M1102.8 174.7h10.8M1190.6 172.7h10.8M1278.4 120.7h10.8M1366.2 165.9h10.8M1454 198.3h10.8M1541.8 215.6h10.8M1629.6 149.7h10.8M1717.4 181.6h10.8" stroke="#00ffff" stroke-width="3" fill="none"/>
<path d="M1118.2 194.3V81.3M1118.2 280.1V306.7M1206 186.8V40M1206 295.4V453.2M1293.8 111.1V74M1293.8 187.3V224.9M1381.6 157.6V114M1381.6 207V231M1469.4 182.2V119.3M1469.4 247.8V287.6M1557.2 201.6V97.2M1557.2 293.7V382.6M1645 114V78.3M1645 218.8V289.3M1732.8 126.2V62.3M1732.8 295.7V428.1" stroke="#ff00ff" stroke-width="1.5" stroke-dasharray="7 3.9" fill="none"/>
<path d="M1114.3 194.3h7.8V280.1h-7.8ZM1202.1 186.8h7.8V295.4h-7.8ZM1289.9 111.1h7.8V187.3h-7.8ZM1377.7 157.6h7.8V207h-7.8ZM1465.5 182.2h7.8V247.8h-7.8ZM1553.3 201.6h7.8V293.7h-7.8ZM1641.1 114h7.8V218.8h-7.8ZM1728.9 126.2h7.8V295.7h-7.8Z" stroke="#ff00ff" stroke-width="1.7" fill="none"/>
<path d="M1112.8 224.9h10.8M1200.6 236.2h10.8M1288.4 155.8h10.8M1376.2 178.4h10.8M1464 209.4h10.8M1551.8 226.9h10.8M1639.6 157.9h10.8M1727.4 219.3h10.8" stroke="#ff00ff" stroke-width="3" fill="none"/>
<path d="M1128.3 224V129.7M1128.3 288.4V384M1216.1 213.5V102.7M1216.1 296.3V379.7M1303.9 104.1V72.2M1303.9 240V381.9M1391.7 261.1V188.4M1391.7 384.9V410.1M1479.5 240.9V190.8M1479.5 399.7V456.8M1567.3 279.4V214.4M1567.3 413.6V468.5M1655.1 112.8V97.8M1655.1 186.4V271.9M1742.9 199.7V113.5M1742.9 270.1V298" stroke="#ffff00" stroke-width="1.5" stroke-dasharray="7 3.9" fill="none"/>
<path d="M1124.4 224h7.8V288.4h-7.8ZM1212.2 213.5h7.8V296.3h-7.8ZM1300 104.1h7.8V240h-7.8ZM1387.8 261.1h7.8V384.9h-7.8ZM1475.6 240.9h7.8V399.7h-7.8ZM1563.4 279.4h7.8V413.6h-7.8ZM1651.2 112.8h7.8V186.4h-7.8ZM1739 199.7h7.8V270.1h-7.8Z" stroke="#ffff00" stroke-width="1.7" fill="none"/>
<path d="M1122.9 267h10.8M1210.7 263.2h10.8M1298.5 132.9h10.8M1386.3 336.2h10.8M1474.1 373.9h10.8M1561.9 324.5h10.8M1649.7 149.7h10.8M1737.5 228.3h10.8" stroke="#ffff00" stroke-width="3" fill="none"/>
<path d="M1138.4 155.5V94.9M1138.4 217V281.5M1314 104.8V83.9M1314 168.4V173.6M1401.8 64.9V56.6M1401.8 225.7V239.7M1489.5 69.6V59.5M1489.5 204.2V268M1577.3 122.8V66.2M1577.3 251.3V278.8M1665.2 144.5V106.6M1665.2 227.5V234.1M1753 154.4V105.3M1753 187.7V197.1" stroke="#807a00" stroke-width="1.5" stroke-dasharray="7 3.9" fill="none"/>
<path d="M1134.5 155.5h7.8V217h-7.8ZM1222.2 193.6h7.8V205.8h-7.8ZM1310 104.8h7.8V168.4h-7.8ZM1397.8 64.9h7.8V225.7h-7.8ZM1485.6 69.6h7.8V204.2h-7.8ZM1573.4 122.8h7.8V251.3h-7.8ZM1661.2 144.5h7.8V227.5h-7.8ZM1749 154.4h7.8V187.7h-7.8Z" stroke="#807a00" stroke-width="1.7" fill="none"/>
<path d="M1133 203.9h10.8M1220.8 193.9h10.8M1308.5 122.8h10.8M1396.3 103.9h10.8M1484.1 113.5h10.8M1571.9 132.3h10.8M1659.8 144.9h10.8M1747.5 164.5h10.8" stroke="#807a00" stroke-width="3" fill="none"/>
<g fill="#ff6a0d"><circle cx="1078" cy="235.3" r="2.5"/><circle cx="1088.1" cy="230.4" r="2.5"/><circle cx="1098.2" cy="225.4" r="2.5"/><circle cx="1108.2" cy="192.1" r="2.5"/><circle cx="1118.2" cy="207.1" r="2.5"/><circle cx="1128.3" cy="250.1" r="2.5"/><circle cx="1138.4" cy="190.8" r="2.5"/><circle cx="1165.8" cy="233.9" r="2.5"/><circle cx="1175.9" cy="221.9" r="2.5"/><circle cx="1186" cy="237" r="2.5"/><circle cx="1196" cy="185.5" r="2.5"/><circle cx="1206" cy="228" r="2.5"/><circle cx="1216.1" cy="242.3" r="2.5"/><circle cx="1226.2" cy="182.6" r="2.5"/><circle cx="1253.6" cy="128.8" r="2.5"/><circle cx="1263.7" cy="154.4" r="2.5"/><circle cx="1273.8" cy="114.9" r="2.5"/><circle cx="1283.8" cy="125.9" r="2.5"/><circle cx="1293.8" cy="156.4" r="2.5"/><circle cx="1303.9" cy="179.3" r="2.5"/><circle cx="1314" cy="130.6" r="2.5"/><circle cx="1341.4" cy="269.8" r="2.5"/><circle cx="1351.5" cy="206.9" r="2.5"/><circle cx="1361.5" cy="203.8" r="2.5"/><circle cx="1371.6" cy="179.3" r="2.5"/><circle cx="1381.6" cy="199.8" r="2.5"/><circle cx="1391.7" cy="319.2" r="2.5"/><circle cx="1401.8" cy="138.4" r="2.5"/><circle cx="1429.2" cy="288.9" r="2.5"/><circle cx="1439.3" cy="230.4" r="2.5"/><circle cx="1449.3" cy="239.7" r="2.5"/><circle cx="1459.4" cy="215.6" r="2.5"/><circle cx="1469.4" cy="226.9" r="2.5"/><circle cx="1479.5" cy="326.4" r="2.5"/><circle cx="1489.5" cy="143.1" r="2.5"/><circle cx="1517" cy="287.6" r="2.5"/><circle cx="1527.1" cy="238.3" r="2.5"/><circle cx="1537.1" cy="253.6" r="2.5"/><circle cx="1547.2" cy="223.1" r="2.5"/><circle cx="1557.2" cy="240" r="2.5"/><circle cx="1567.3" cy="341.9" r="2.5"/><circle cx="1577.3" cy="170.3" r="2.5"/><circle cx="1604.8" cy="153.8" r="2.5"/><circle cx="1614.9" cy="181.4" r="2.5"/><circle cx="1625" cy="189.6" r="2.5"/><circle cx="1635" cy="170.6" r="2.5"/><circle cx="1645" cy="171.2" r="2.5"/><circle cx="1655.1" cy="168.4" r="2.5"/><circle cx="1665.2" cy="171.5" r="2.5"/><circle cx="1692.6" cy="236.5" r="2.5"/><circle cx="1702.7" cy="228.7" r="2.5"/><circle cx="1712.8" cy="235.3" r="2.5"/><circle cx="1722.8" cy="184.5" r="2.5"/><circle cx="1732.8" cy="221.4" r="2.5"/><circle cx="1742.9" cy="235.8" r="2.5"/><circle cx="1753" cy="162.3" r="2.5"/></g>
<path d="M1078 777.2V710M1078 823.2V891.3M1165.8 779.6V710.5M1165.8 828.9V889.6M1253.6 780.1V716.2M1253.6 830.1V890.1M1341.4 885.4V837.7M1341.4 918V961.2M1429.2 888.4V850M1429.2 920.1V965.9M1517 892.4V847.1M1517 925.3V959.4M1604.8 802.8V739.2M1604.8 858V897.9M1692.6 775.8V711.3M1692.6 822V887.5" stroke="#ff0000" stroke-width="1.5" stroke-dasharray="7 3.9" fill="none"/>
<path d="M1074.1 777.2h7.8V823.2h-7.8ZM1161.9 779.6h7.8V828.9h-7.8ZM1249.7 780.1h7.8V830.1h-7.8ZM1337.5 885.4h7.8V918h-7.8ZM1425.3 888.4h7.8V920.1h-7.8ZM1513.1 892.4h7.8V925.3h-7.8ZM1600.9 802.8h7.8V858h-7.8ZM1688.7 775.8h7.8V822h-7.8Z" stroke="#ff0000" stroke-width="1.7" fill="none"/>
<path d="M1072.6 799.8h10.8M1160.4 805h10.8M1248.2 804.9h10.8M1336 903.2h10.8M1423.8 908.4h10.8M1511.6 914h10.8M1599.4 830.7h10.8M1687.2 799.6h10.8" stroke="#ff0000" stroke-width="3" fill="none"/>
<path d="M1088.1 765.3V727.9M1088.1 836.2V932.8M1175.9 767.6V728.8M1175.9 835.5V931.4M1263.7 777.5V727M1263.7 849.8V884.9M1351.5 868V822M1351.5 900.6V949.3M1439.3 877.6V853.2M1439.3 901.1V931M1527.1 887.2V868.4M1527.1 911V938.4M1614.9 801.9V736.1M1614.9 854.8V910.1M1702.7 767.9V720.1M1702.7 832.2V926.7" stroke="#00ff00" stroke-width="1.5" stroke-dasharray="7 3.9" fill="none"/>
<path d="M1084.2 765.3h7.8V836.2h-7.8ZM1172 767.6h7.8V835.5h-7.8ZM1259.8 777.5h7.8V849.8h-7.8ZM1347.6 868h7.8V900.6h-7.8ZM1435.4 877.6h7.8V901.1h-7.8ZM1523.2 887.2h7.8V911h-7.8ZM1611 801.9h7.8V854.8h-7.8ZM1698.8 767.9h7.8V832.2h-7.8Z" stroke="#00ff00" stroke-width="1.7" fill="none"/>
<path d="M1082.7 800.5h10.8M1170.5 800.2h10.8M1258.3 824.9h10.8M1346.1 887.8h10.8M1433.9 889.8h10.8M1521.7 904h10.8M1609.5 826.2h10.8M1697.3 793.7h10.8" stroke="#00ff00" stroke-width="3" fill="none"/>
<path d="M1098.2 756.1V701.2M1098.2 792V833.8M1186 762.7V724.9M1186 807.1V855.2M1273.8 789.2V769.7M1273.8 835V857.5M1361.5 875V836.8M1361.5 904.6V935M1449.3 888.7V866M1449.3 905.3V927.6M1537.1 902.8V882.3M1537.1 916.6V931.4M1625 802.4V727.4M1625 852.3V877.1M1712.8 759.2V749.7M1712.8 789.7V831.6" stroke="#0000ff" stroke-width="1.5" stroke-dasharray="7 3.9" fill="none"/>
<path d="M1094.2 756.1h7.8V792h-7.8ZM1182 762.7h7.8V807.1h-7.8ZM1269.8 789.2h7.8V835h-7.8ZM1357.6 875h7.8V904.6h-7.8ZM1445.4 888.7h7.8V905.3h-7.8ZM1533.2 902.8h7.8V916.6h-7.8ZM1621 802.4h7.8V852.3h-7.8ZM1708.8 759.2h7.8V789.7h-7.8Z" stroke="#0000ff" stroke-width="1.7" fill="none"/>
<path d="M1092.8 775.3h10.8M1180.5 785h10.8M1268.3 809.2h10.8M1356.1 884.5h10.8M1443.9 897.1h10.8M1531.7 911.5h10.8M1619.5 827.5h10.8M1707.3 774.6h10.8" stroke="#0000ff" stroke-width="3" fill="none"/>
<path d="M1108.2 699.6V551.3M1108.2 806.8V885.8M1196 696.8V580.5M1196 805.9V879.7M1283.8 790.2V755.8M1283.8 838.8V867.5M1371.6 836.1V780.5M1371.6 891.3V934.5M1459.4 856.7V788.8M1459.4 905.3V936.3M1547.2 867.1V826.4M1547.2 908.9V949.3M1635 806.6V732.2M1635 856.9V893.6M1722.8 690.4V526M1722.8 803.3V876.2" stroke="#00ffff" stroke-width="1.5" stroke-dasharray="7 3.9" fill="none"/>
<path d="M1104.3 699.6h7.8V806.8h-7.8ZM1192.1 696.8h7.8V805.9h-7.8ZM1279.9 790.2h7.8V838.8h-7.8ZM1367.7 836.1h7.8V891.3h-7.8ZM1455.5 856.7h7.8V905.3h-7.8ZM1543.3 867.1h7.8V908.9h-7.8ZM1631.1 806.6h7.8V856.9h-7.8ZM1718.9 690.4h7.8V803.3h-7.8Z" stroke="#00ffff" stroke-width="1.7" fill="none"/>
<path d="M1102.8 776.1h10.8M1190.6 759.8h10.8M1278.4 813.2h10.8M1366.2 870.6h10.8M1454 878.4h10.8M1541.8 884.9h10.8M1629.6 832.7h10.8M1717.4 774.6h10.8" stroke="#00ffff" stroke-width="3" fill="none"/>
<path d="M1118.2 776.1V725.3M1118.2 817.1V835.2M1206 780.1V726.5M1206 834.7V851.7M1293.8 790.9V745.8M1293.8 824.2V856.7M1381.6 864.8V856.5M1381.6 898.3V943.8M1469.4 875.8V858M1469.4 915V937.1M1557.2 882.3V857.3M1557.2 918V936.3M1645 826.4V765.7M1645 869.2V883.1M1732.8 769.7V737.1M1732.8 832.8V919.4" stroke="#ff00ff" stroke-width="1.5" stroke-dasharray="7 3.9" fill="none"/>
<path d="M1114.3 776.1h7.8V817.1h-7.8ZM1202.1 780.1h7.8V834.7h-7.8ZM1289.9 790.9h7.8V824.2h-7.8ZM1377.7 864.8h7.8V898.3h-7.8ZM1465.5 875.8h7.8V915h-7.8ZM1553.3 882.3h7.8V918h-7.8ZM1641.1 826.4h7.8V869.2h-7.8ZM1728.9 769.7h7.8V832.8h-7.8Z" stroke="#ff00ff" stroke-width="1.7" fill="none"/>
<path d="M1112.8 790.6h10.8M1200.6 805.4h10.8M1288.4 804h10.8M1376.2 870.6h10.8M1464 891.3h10.8M1551.8 900.6h10.8M1639.6 853.5h10.8M1727.4 795.3h10.8" stroke="#ff00ff" stroke-width="3" fill="none"/>
<path d="M1128.3 770.6V690.9M1128.3 828.6V850.6M1216.1 771.1V694.7M1216.1 831.2V836M1303.9 772.3V714M1303.9 819.8V837.8M1391.7 877.6V859.5M1391.7 910.1V932.8M1479.5 869.5V846.2M1479.5 905.3V931.4M1567.3 895.7V872.2M1567.3 924.9V947.6M1655.1 768.8V721.3M1655.1 813.4V854.8M1742.9 759.8V694.4M1742.9 824V841.2" stroke="#ffff00" stroke-width="1.5" stroke-dasharray="7 3.9" fill="none"/>
<path d="M1124.4 770.6h7.8V828.6h-7.8ZM1212.2 771.1h7.8V831.2h-7.8ZM1300 772.3h7.8V819.8h-7.8ZM1387.8 877.6h7.8V910.1h-7.8ZM1475.6 869.5h7.8V905.3h-7.8ZM1563.4 895.7h7.8V924.9h-7.8ZM1651.2 768.8h7.8V813.4h-7.8ZM1739 759.8h7.8V824h-7.8Z" stroke="#ffff00" stroke-width="1.7" fill="none"/>
<path d="M1122.9 806.3h10.8M1210.7 813.8h10.8M1298.5 805.4h10.8M1386.3 891.5h10.8M1474.1 890.1h10.8M1561.9 908.4h10.8M1649.7 780.5h10.8M1737.5 796.3h10.8" stroke="#ffff00" stroke-width="3" fill="none"/>
<path d="M1138.4 587.8V527.4M1138.4 740.4V764.5M1226.2 588.4V550.6M1226.2 760.1V765.3M1314 778.9V723.5M1314 838.8V849M1401.8 770.6V744.4M1401.8 875.8V889.2M1489.5 765.3V749.1M1489.5 884V894.5M1577.3 797.6V779.3M1577.3 895.9V904.9M1665.2 885.8V899.7M1753 590.1V544.8M1753 829V842.3" stroke="#807a00" stroke-width="1.5" stroke-dasharray="7 3.9" fill="none"/>
<path d="M1134.5 587.8h7.8V740.4h-7.8ZM1222.2 588.4h7.8V760.1h-7.8ZM1310 778.9h7.8V838.8h-7.8ZM1397.8 770.6h7.8V875.8h-7.8ZM1485.6 765.3h7.8V884h-7.8ZM1573.4 797.6h7.8V895.9h-7.8ZM1661.2 770.2h7.8V885.8h-7.8ZM1749 590.1h7.8V829h-7.8Z" stroke="#807a00" stroke-width="1.7" fill="none"/>
<path d="M1133 733.5h10.8M1220.8 736.6h10.8M1308.5 806.6h10.8M1396.3 838h10.8M1484.1 854.3h10.8M1571.9 863.1h10.8M1659.8 862.8h10.8M1747.5 822.3h10.8" stroke="#807a00" stroke-width="3" fill="none"/>
<g fill="#ff6a0d"><circle cx="1078" cy="801.9" r="2.5"/><circle cx="1088.1" cy="808.4" r="2.5"/><circle cx="1098.2" cy="776.1" r="2.5"/><circle cx="1108.2" cy="751.8" r="2.5"/><circle cx="1118.2" cy="794.4" r="2.5"/><circle cx="1128.3" cy="797.2" r="2.5"/><circle cx="1138.4" cy="670.2" r="2.5"/><circle cx="1165.8" cy="804.2" r="2.5"/><circle cx="1175.9" cy="806.8" r="2.5"/><circle cx="1186" cy="787.1" r="2.5"/><circle cx="1196" cy="752.6" r="2.5"/><circle cx="1206" cy="809.7" r="2.5"/><circle cx="1216.1" cy="796.3" r="2.5"/><circle cx="1226.2" cy="680.5" r="2.5"/><circle cx="1253.6" cy="804" r="2.5"/><circle cx="1263.7" cy="817.6" r="2.5"/><circle cx="1273.8" cy="812.7" r="2.5"/><circle cx="1283.8" cy="808.9" r="2.5"/><circle cx="1293.8" cy="805.7" r="2.5"/><circle cx="1303.9" cy="797.9" r="2.5"/><circle cx="1314" cy="799.3" r="2.5"/><circle cx="1341.4" cy="900.2" r="2.5"/><circle cx="1351.5" cy="884.4" r="2.5"/><circle cx="1361.5" cy="884" r="2.5"/><circle cx="1371.6" cy="864.4" r="2.5"/><circle cx="1381.6" cy="882.6" r="2.5"/><circle cx="1391.7" cy="894.8" r="2.5"/><circle cx="1401.8" cy="823.4" r="2.5"/><circle cx="1429.2" cy="905.3" r="2.5"/><circle cx="1439.3" cy="889.2" r="2.5"/><circle cx="1449.3" cy="893.9" r="2.5"/><circle cx="1459.4" cy="873.9" r="2.5"/><circle cx="1469.4" cy="892.4" r="2.5"/><circle cx="1479.5" cy="890.5" r="2.5"/><circle cx="1489.5" cy="829.3" r="2.5"/><circle cx="1517" cy="907.5" r="2.5"/><circle cx="1527.1" cy="899.2" r="2.5"/><circle cx="1537.1" cy="906.7" r="2.5"/><circle cx="1547.2" cy="887" r="2.5"/><circle cx="1557.2" cy="898.8" r="2.5"/><circle cx="1567.3" cy="909.3" r="2.5"/><circle cx="1577.3" cy="848" r="2.5"/><circle cx="1604.8" cy="824.5" r="2.5"/><circle cx="1614.9" cy="823.6" r="2.5"/><circle cx="1625" cy="817.9" r="2.5"/><circle cx="1635" cy="819.4" r="2.5"/><circle cx="1645" cy="846.4" r="2.5"/><circle cx="1655.1" cy="786.2" r="2.5"/><circle cx="1665.2" cy="799.8" r="2.5"/><circle cx="1692.6" cy="798.8" r="2.5"/><circle cx="1702.7" cy="801" r="2.5"/><circle cx="1712.8" cy="772.3" r="2.5"/><circle cx="1722.8" cy="749.1" r="2.5"/><circle cx="1732.8" cy="803.3" r="2.5"/><circle cx="1742.9" cy="790.6" r="2.5"/><circle cx="1753" cy="725.6" r="2.5"/></g>
<path d="M1064.3 28.4H1766.7V484.2H1064.3ZM1053.3 28.4H1064.3M1058.8 74H1064.3M1053.3 119.6H1064.3M1058.8 165.1H1064.3M1053.3 210.7H1064.3M1058.8 256.3H1064.3M1053.3 301.9H1064.3M1058.8 347.5H1064.3M1053.3 393H1064.3M1058.8 438.6H1064.3M1053.3 484.2H1064.3M1064.3 484.2v8.5M1152.1 484.2v8.5M1239.9 484.2v8.5M1327.7 484.2v8.5M1415.5 484.2v8.5M1503.3 484.2v8.5M1591.1 484.2v8.5M1678.9 484.2v8.5M1766.7 484.2v8.5" stroke="#000" stroke-width="1.5" fill="none" stroke-linecap="square"/>
<text transform="translate(1046.3 35) scale(1 1.06)" font-size="21.5" text-anchor="end">1.0</text>
<text transform="translate(1046.3 126.2) scale(1 1.06)" font-size="21.5" text-anchor="end">0.8</text>
<text transform="translate(1046.3 217.3) scale(1 1.06)" font-size="21.5" text-anchor="end">0.6</text>
<text transform="translate(1046.3 308.5) scale(1 1.06)" font-size="21.5" text-anchor="end">0.4</text>
<text transform="translate(1046.3 399.6) scale(1 1.06)" font-size="21.5" text-anchor="end">0.2</text>
<text transform="translate(1046.3 490.8) scale(1 1.06)" font-size="21.5" text-anchor="end">0.0</text>
<path d="M1064.3 519.3H1766.7V974.2H1064.3ZM1053.3 519.3H1064.3M1058.8 544.6H1064.3M1053.3 569.8H1064.3M1058.8 595.1H1064.3M1053.3 620.4H1064.3M1058.8 645.7H1064.3M1053.3 670.9H1064.3M1058.8 696.2H1064.3M1053.3 721.5H1064.3M1058.8 746.8H1064.3M1053.3 772H1064.3M1058.8 797.3H1064.3M1053.3 822.6H1064.3M1058.8 847.8H1064.3M1053.3 873.1H1064.3M1058.8 898.4H1064.3M1053.3 923.7H1064.3M1058.8 948.9H1064.3M1053.3 974.2H1064.3M1064.3 974.2V1011.8M1152.1 974.2V1011.8M1239.9 974.2V1011.8M1327.7 974.2V1011.8M1415.5 974.2V1011.8M1503.3 974.2V1011.8M1591.1 974.2V1011.8M1678.9 974.2V1011.8M1766.7 974.2V1011.8M1064.3 1011.8H1766.7" stroke="#000" stroke-width="1.5" fill="none" stroke-linecap="square"/>
<text transform="translate(1046.3 525.9) scale(1 1.06)" font-size="21.5" text-anchor="end">1.8</text>
<text transform="translate(1046.3 576.4) scale(1 1.06)" font-size="21.5" text-anchor="end">1.6</text>
<text transform="translate(1046.3 627) scale(1 1.06)" font-size="21.5" text-anchor="end">1.4</text>
<text transform="translate(1046.3 677.5) scale(1 1.06)" font-size="21.5" text-anchor="end">1.2</text>
<text transform="translate(1046.3 728.1) scale(1 1.06)" font-size="21.5" text-anchor="end">1.0</text>
<text transform="translate(1046.3 778.6) scale(1 1.06)" font-size="21.5" text-anchor="end">0.8</text>
<text transform="translate(1046.3 829.2) scale(1 1.06)" font-size="21.5" text-anchor="end">0.6</text>
<text transform="translate(1046.3 879.7) scale(1 1.06)" font-size="21.5" text-anchor="end">0.4</text>
<text transform="translate(1046.3 930.3) scale(1 1.06)" font-size="21.5" text-anchor="end">0.2</text>
<text transform="translate(1046.3 980.8) scale(1 1.06)" font-size="21.5" text-anchor="end">0.0</text>
<text transform="translate(1111 1000.8) scale(1 1.06)" font-size="22" text-anchor="middle">0:00</text>
<text transform="translate(1198.8 1000.8) scale(1 1.06)" font-size="22" text-anchor="middle">3:00</text>
<text transform="translate(1286.6 1000.8) scale(1 1.06)" font-size="22" text-anchor="middle">6:00</text>
<text transform="translate(1374.4 1000.8) scale(1 1.06)" font-size="22" text-anchor="middle">9:00</text>
<text transform="translate(1462.2 1000.8) scale(1 1.06)" font-size="22" text-anchor="middle">12:00</text>
<text transform="translate(1550 1000.8) scale(1 1.06)" font-size="22" text-anchor="middle">15:00</text>
<text transform="translate(1637.8 1000.8) scale(1 1.06)" font-size="22" text-anchor="middle">18:00</text>
<text transform="translate(1725.6 1000.8) scale(1 1.06)" font-size="22" text-anchor="middle">21:00</text>
<text transform="translate(1006.8 256.7) rotate(-90) scale(1 1.06)" font-size="28" text-anchor="middle">Fitted R<tspan dy="-10" font-size="17">2</tspan><tspan dy="10"> at each site</tspan></text>
<text transform="translate(1006.2 748.2) rotate(-90) scale(1 1.06)" font-size="28.3" text-anchor="middle">Fitted slope at each site</text>
<text transform="translate(1422 1058) scale(1 1.06)" font-size="28" text-anchor="middle">Time</text>
<text transform="translate(966.3 74.6) scale(1 1.06)" font-size="33">(c)</text>
<text transform="translate(960.7 546.5) scale(1 1.06)" font-size="32.5">(d)</text>
<rect x="1782.4" y="377.9" width="49.8" height="23.4" fill="none" stroke="#ff0000" stroke-width="1.4"/>
<text transform="translate(1839 397.2) scale(1 1.06)" font-size="22.6">Forest (25%~75%)</text>
<rect x="1782.4" y="406.2" width="49.8" height="23.4" fill="none" stroke="#00ff00" stroke-width="1.4"/>
<text transform="translate(1839 425.5) scale(1 1.06)" font-size="22.6">Grassland (25%~75%)</text>
<rect x="1782.4" y="434.5" width="49.8" height="23.4" fill="none" stroke="#0000ff" stroke-width="1.4"/>
<text transform="translate(1839 453.8) scale(1 1.06)" font-size="22.6">Cropland (25%~75%)</text>
<rect x="1782.4" y="462.8" width="49.8" height="23.4" fill="none" stroke="#00ffff" stroke-width="1.4"/>
<text transform="translate(1839 482.1) scale(1 1.06)" font-size="22.6">Wetland (25%~75%)</text>
<rect x="1782.4" y="491.1" width="49.8" height="23.4" fill="none" stroke="#ff00ff" stroke-width="1.4"/>
<text transform="translate(1839 510.4) scale(1 1.06)" font-size="22.6">Shrubland (25%~75%)</text>
<rect x="1782.4" y="519.4" width="49.8" height="23.4" fill="none" stroke="#ffff00" stroke-width="1.4"/>
<text transform="translate(1839 538.7) scale(1 1.06)" font-size="22.6">Savanna (25%~75%)</text>
<rect x="1782.4" y="547.7" width="49.8" height="23.4" fill="none" stroke="#807a00" stroke-width="1.4"/>
<text transform="translate(1839 567) scale(1 1.06)" font-size="22.6">Other (25%~75%)</text>
<path d="M1807.4 576.7V599.7" stroke="#ff0000" stroke-width="1.2" stroke-dasharray="5 3.4"/>
<path d="M1799.4 576.2h16M1799.4 599.7h16" stroke="#ff0000" stroke-width="1.2"/>
<text transform="translate(1839 595.3) scale(1 1.06)" font-size="22.6">Outlier</text>
<path d="M1791 616h33" stroke="#ff0000" stroke-width="3" stroke-linecap="round"/>
<text transform="translate(1839 623.6) scale(1 1.06)" font-size="22.6">Median Line</text>
<circle cx="1807.4" cy="644.3" r="2.5" fill="#ff6a0d"/>
<text transform="translate(1839 651.9) scale(1 1.06)" font-size="22.6">Mean</text>
</svg></body></html>
